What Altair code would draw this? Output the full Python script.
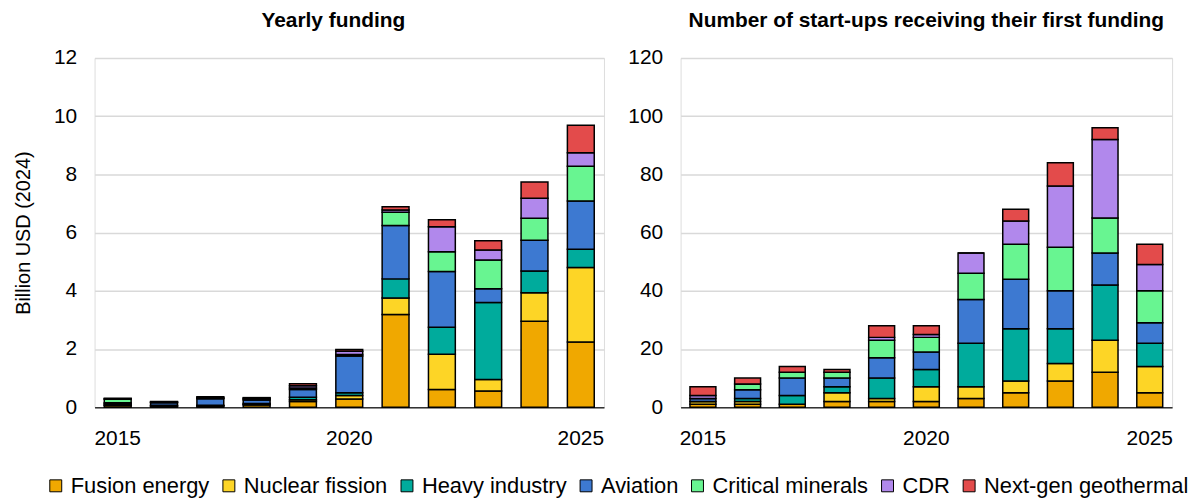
import altair as alt
import pandas as pd

years = list(range(2015, 2026))
categories = ["Fusion energy", "Nuclear fission", "Heavy industry", "Aviation",
              "Critical minerals", "CDR", "Next-gen geothermal"]
colors = ["#F0A800", "#FDD526", "#00AB9C", "#3D79D1", "#68F591", "#B188EC", "#E34B4B"]

# Yearly funding, billion USD (2024)
fund_fusion = [0.06, 0.03, 0.04, 0.08, 0.20, 0.28, 3.19, 0.61, 0.56, 2.95, 2.24]
fund_fission = [0.02, 0.01, 0.01, 0.02, 0.06, 0.12, 0.56, 1.21, 0.39, 0.98, 2.56]
fund_heavy = [0.04, 0.03, 0.02, 0.03, 0.08, 0.10, 0.66, 0.93, 2.65, 0.75, 0.63]
fund_aviation = [0.03, 0.08, 0.22, 0.12, 0.27, 1.26, 1.83, 1.91, 0.47, 1.06, 1.66]
fund_minerals = [0.12, 0.02, 0.02, 0.03, 0.05, 0.05, 0.46, 0.68, 0.99, 0.75, 1.19]
fund_cdr = [0.02, 0.01, 0.02, 0.03, 0.08, 0.11, 0.08, 0.86, 0.34, 0.69, 0.46]
fund_geo = [0.02, 0.02, 0.03, 0.02, 0.07, 0.06, 0.11, 0.24, 0.32, 0.56, 0.95]

# Number of start-ups receiving their first funding
cnt_fusion = [1, 1, 1, 2, 2, 2, 3, 5, 9, 12, 5]
cnt_fission = [1, 1, 0, 3, 1, 5, 4, 4, 6, 11, 9]
cnt_heavy = [0, 1, 3, 2, 7, 6, 15, 18, 12, 19, 8]
cnt_aviation = [1, 3, 6, 3, 7, 6, 15, 17, 13, 11, 7]
cnt_minerals = [0, 2, 2, 2, 6, 5, 9, 12, 15, 12, 11]
cnt_cdr = [1, 0, 0, 0, 1, 1, 7, 8, 21, 27, 9]
cnt_geo = [3, 2, 2, 1, 4, 3, 0, 4, 8, 4, 7]

fund_series = [fund_fusion, fund_fission, fund_heavy, fund_aviation, fund_minerals, fund_cdr, fund_geo]
cnt_series = [cnt_fusion, cnt_fission, cnt_heavy, cnt_aviation, cnt_minerals, cnt_cdr, cnt_geo]


def long_df(series):
    rows = []
    for i, (cat, vals) in enumerate(zip(categories, series)):
        for y, v in zip(years, vals):
            rows.append({"year": y, "category": cat, "idx": i, "value": v})
    return pd.DataFrame(rows)


df_fund = long_df(fund_series)
df_cnt = long_df(cnt_series)

FONT = "Liberation Sans"

color_enc = alt.Color(
    "category:N",
    scale=alt.Scale(domain=categories, range=colors),
    legend=alt.Legend(
        title=None, orient="none", direction="horizontal",
        legendX=-50, legendY=419,
        symbolType="square", symbolSize=144, symbolStrokeColor="black",
        symbolStrokeWidth=1, labelFontSize=22, labelFont=FONT, labelColor="black",
        columnPadding=8, labelOffset=4, padding=0, labelLimit=400,
    ),
)


def panel(df, title, ymax, step_vals, width, ytitle, dx):
    common = dict(values=step_vals, grid=True, gridColor="#d9d9d9", gridWidth=1.5,
                  domain=False, ticks=False, labelPadding=18, labelFontSize=21,
                  labelFont=FONT, labelColor="black")
    if ytitle:
        yaxis = alt.Axis(title=ytitle, titleFontSize=20, titleFont=FONT,
                         titleFontWeight="normal", titleColor="black",
                         titlePadding=20, **common)
    else:
        yaxis = alt.Axis(title=None, **common)
    return alt.Chart(df).mark_bar(stroke="black", strokeWidth=1.5).encode(
        x=alt.X("year:O",
                scale=alt.Scale(paddingInner=0.42, paddingOuter=0.21),
                axis=alt.Axis(values=[2015, 2020, 2025], labelAngle=0, title=None,
                              ticks=False, domainColor="#333333", domainWidth=1.5,
                              labelPadding=20, labelFontSize=21, labelFont=FONT,
                              labelColor="black", grid=False)),
        y=alt.Y("value:Q", scale=alt.Scale(domain=[0, ymax], nice=False),
                axis=yaxis, stack="zero"),
        color=color_enc,
        order=alt.Order("idx:Q", sort="ascending"),
    ).properties(
        width=width, height=351,
        title=alt.TitleParams(title, fontSize=21, fontWeight="bold", font=FONT,
                              color="black", anchor="middle", offset=16, dx=dx),
    )


left = panel(df_fund, "Yearly funding", 12, [0, 2, 4, 6, 8, 10, 12], 512,
             "Billion USD (2024)", -16)
right = panel(df_cnt, "Number of start-ups receiving their first funding", 120,
              [0, 20, 40, 60, 80, 100, 120], 494, None, 0)

chart = alt.hconcat(left, right, spacing=22).properties(
    padding={"left": 5, "top": 0, "right": 0, "bottom": 0}
).configure_view(stroke=None).configure(font=FONT)

chart.save("out.html", embed_options={"renderer": "svg", "actions": False})
